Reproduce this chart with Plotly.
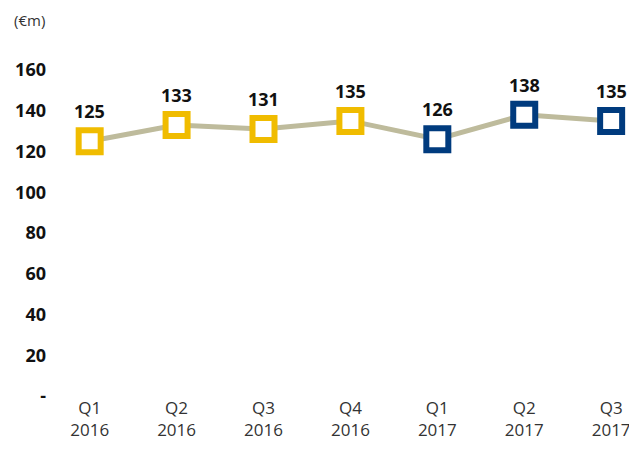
import plotly.graph_objects as go

quarters = ["Q1<br>2016", "Q2<br>2016", "Q3<br>2016", "Q4<br>2016", "Q1<br>2017", "Q2<br>2017", "Q3<br>2017"]
values = [125, 133, 131, 135, 126, 138, 135]
years = ["2016", "2016", "2016", "2016", "2017", "2017", "2017"]
y_tickvals = [0, 20, 40, 60, 80, 100, 120, 140, 160]
y_ticktext = ["-", "20", "40", "60", "80", "100", "120", "140", "160"]

year_colors = {"2016": "#F0BC00", "2017": "#003B7E"}
edge_colors = [year_colors[y] for y in years]

fig = go.Figure()
fig.add_trace(go.Scatter(
    x=quarters, y=values,
    mode="lines+markers",
    line=dict(color="#BEBB9C", width=5),
    marker=dict(symbol="square", size=22, color="white",
                line=dict(color=edge_colors, width=6)),
    cliponaxis=False,
    hoverinfo="skip",
))

for q, v in zip(quarters, values):
    fig.add_annotation(x=q, y=v, text=str(v), showarrow=False, yshift=30,
                       font=dict(family="Open Sans", size=18, color="#111111", weight="bold"))

fig.add_annotation(text="(€m)", xref="paper", yref="paper", x=-0.061, y=1.087,
                   xanchor="left", yanchor="middle", showarrow=False,
                   font=dict(family="Open Sans", size=15, color="#333333"))

fig.update_layout(
    width=629, height=451,
    margin=dict(l=37, r=7, t=42, b=63),
    paper_bgcolor="white", plot_bgcolor="white",
    showlegend=False,
    font=dict(family="Open Sans"),
    xaxis=dict(type="category", range=[-0.491, 6.194], showgrid=False,
               zeroline=False, showline=False, ticks="",
               tickfont=dict(family="Open Sans", size=17, color="#333333")),
    yaxis=dict(range=[0, 169.8], tickvals=y_tickvals, ticktext=y_ticktext,
               showgrid=False, zeroline=False, showline=False, ticks="",
               tickfont=dict(family="Open Sans", size=18, color="#111111", weight="bold")),
)

fig.write_html("out.html")
